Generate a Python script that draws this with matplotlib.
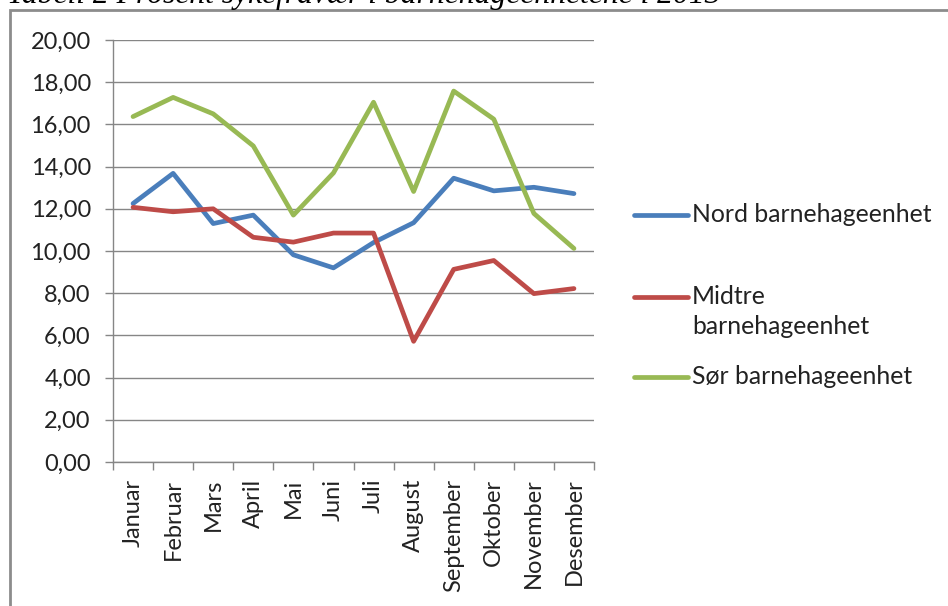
import matplotlib
matplotlib.use("Agg")
import matplotlib.pyplot as plt
from matplotlib.lines import Line2D
from matplotlib.patches import Rectangle

plt.rcParams["font.family"] = ["Lato", "DejaVu Sans"]

months = ["Januar", "Februar", "Mars", "April", "Mai", "Juni", "Juli",
          "August", "September", "Oktober", "November", "Desember"]
nord = [12.25, 13.68, 11.30, 11.70, 9.82, 9.20, 10.40, 11.34, 13.45, 12.85, 13.02, 12.72]
midtre = [12.07, 11.86, 12.00, 10.65, 10.42, 10.85, 10.85, 5.72, 9.13, 9.55, 7.98, 8.22]
sor = [16.37, 17.28, 16.50, 14.98, 11.70, 13.70, 17.05, 12.82, 17.58, 16.25, 11.78, 10.12]
series_labels = ["Nord barnehageenhet", "Midtre\nbarnehageenhet", "Sør barnehageenhet"]
colors = ["#4A7EBB", "#BE4B48", "#98B954"]

W, H = 948, 606
FS = 17
fig = plt.figure(figsize=(W / 100, H / 100), dpi=100)
ax = fig.add_axes([113 / W, 1 - 462 / H, (594 - 113) / W, (462 - 40) / H])

x = list(range(len(months)))
for vals, c in zip([nord, midtre, sor], colors):
    ax.plot(x, vals, color=c, linewidth=3.4, solid_capstyle="round", solid_joinstyle="round", zorder=3)

ax.set_xlim(-0.5, len(months) - 0.5)
ax.set_ylim(0, 20)
ax.set_yticks(range(0, 21, 2))
ax.set_yticklabels([f"{v},00" for v in range(0, 21, 2)])
ax.set_xticks(x)
ax.set_xticklabels(months, rotation=90, ha="center", va="top")
ax.set_xticks([i - 0.5 for i in range(len(months) + 1)], minor=True)
ax.tick_params(axis="x", which="major", length=0, pad=12, labelsize=FS, colors="#222222")
ax.tick_params(axis="x", which="minor", length=6, width=1, color="#868686")
ax.tick_params(axis="y", length=6, width=1, color="#868686", pad=10, labelsize=FS, labelcolor="#222222")
ax.grid(axis="y", color="#868686", linewidth=1)
ax.set_axisbelow(True)
for s in ["top", "right"]:
    ax.spines[s].set_visible(False)
for s in ["left", "bottom"]:
    ax.spines[s].set_color("#868686")
    ax.spines[s].set_linewidth(1)

# legend drawn by hand (Excel style, multi-line label with handle on first line)
leg_y = [215, 297, 377]
for lab, c, y in zip(series_labels, colors, leg_y):
    fig.add_artist(Line2D([634 / W, 688 / W], [1 - y / H, 1 - y / H], color=c, linewidth=3.4,
                          solid_capstyle="round"))
    for i, line in enumerate(lab.split("\n")):
        fig.text(692 / W, 1 - (y + 30 * i) / H, line, ha="left", va="center", fontsize=17.8,
                 color="#222222")

# outer frame of the chart object
fig.add_artist(Rectangle((10 / W, -0.1), 1.2, 1.1 - 10 / H, transform=fig.transFigure,
                         fill=False, edgecolor="#8C8C8C", linewidth=2))

fig.text(7 / W, 1 - 3 / H, "Tabell 2 Prosent sykefravær i barnehageenhetene i 2013",
         ha="left", va="baseline", fontsize=22.8, family=["Liberation Serif"], style="italic")

fig.savefig("out.png", dpi=100, facecolor="white")
